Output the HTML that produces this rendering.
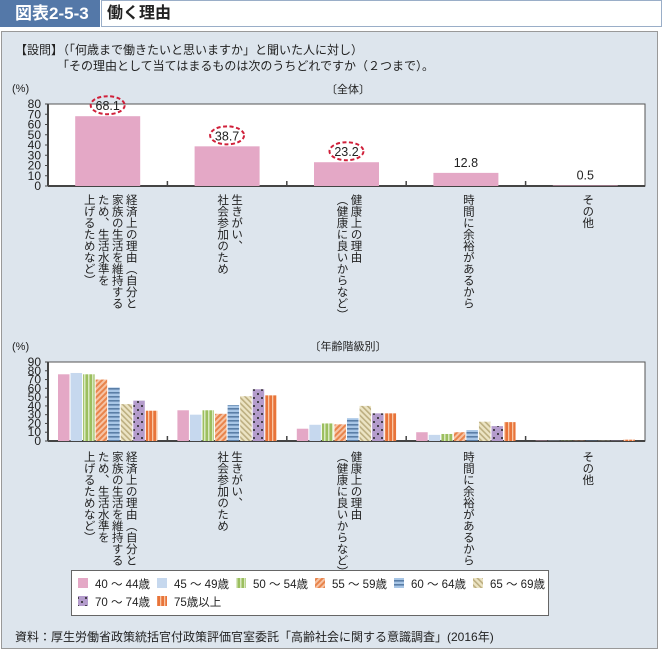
<!DOCTYPE html>
<html><head><meta charset="utf-8"><style>
body{margin:0;width:662px;height:655px;background:#fff;font-family:"Liberation Sans","Noto Sans CJK JP",sans-serif;overflow:hidden;position:relative}
.abs{position:absolute}
.vt{writing-mode:vertical-rl;font-size:11.5px;line-height:14px;color:#222;white-space:nowrap;letter-spacing:0}
</style></head><body>
<div class="abs" style="left:0;top:0;width:100px;height:27px;background:#5478a8;color:#fff;font-weight:bold;font-size:17px;line-height:27px;text-indent:15px">図表2-5-3</div>
<div class="abs" style="left:101px;top:0;width:559px;height:25px;border:1px solid #9aaec8;font-weight:bold;font-size:16px;line-height:25px;text-indent:5px;color:#222">働く理由</div>
<div class="abs" style="left:1px;top:31px;width:655px;height:616px;background:#dde5ed;border:1px solid #999"></div>
<div class="abs" style="left:15px;top:42px;font-size:12px;line-height:16px;color:#222">【設問】（「何歳まで働きたいと思いますか」と聞いた人に対し）<br><span style="padding-left:42px">「その理由として当てはまるものは次のうちどれですか（２つまで）。</span></div>
<div class="abs" style="left:71px;top:570px;width:476px;height:44px;background:#fff;border:1px solid #666"></div>
<svg class="abs" style="left:0;top:0" width="662" height="655" id="chart">
<defs>
<pattern id="p2" width="4" height="4" patternUnits="userSpaceOnUse"><rect width="4" height="4" fill="#9cbf5f"/><rect width="1.5" height="4" fill="#d9e8c0"/></pattern>
<pattern id="p3" width="4" height="4" patternUnits="userSpaceOnUse" patternTransform="rotate(45)"><rect width="4" height="4" fill="#f6c4a5"/><rect width="2" height="4" fill="#e8844c"/></pattern>
<pattern id="p4" width="4" height="4" patternUnits="userSpaceOnUse"><rect width="4" height="4" fill="#a8c6e6"/><rect width="4" height="1.6" fill="#5a7ea6"/></pattern>
<pattern id="p5" width="4" height="4" patternUnits="userSpaceOnUse" patternTransform="rotate(-45)"><rect width="4" height="4" fill="#ece4c4"/><rect width="1.6" height="4" fill="#bcae80"/></pattern>
<pattern id="p6" width="8" height="8" patternUnits="userSpaceOnUse"><rect width="8" height="8" fill="#b49ccc"/><circle cx="2" cy="2" r="1" fill="#222"/><circle cx="6" cy="6" r="1" fill="#222"/></pattern>
<pattern id="p7" width="4" height="4" patternUnits="userSpaceOnUse"><rect width="4" height="4" fill="#e8743a"/><rect width="1.3" height="4" fill="#f9c7a5"/></pattern>
</defs>
</svg>
<div class="abs" style="left:15px;top:628px;font-size:12px;color:#222">資料：厚生労働省政策統括官付政策評価官室委託「高齢社会に関する意識調査」(2016年)</div>
<script>
const categories=["経済上の理由（自分と|家族の生活を維持する|ため、生活水準を|上げるためなど）","生きがい、|社会参加のため","健康上の理由|（健康に良いからなど）","時間に余裕があるから","その他"];
const totalValues=[68.1,38.7,23.2,12.8,0.5];
const totalLabels=["68.1","38.7","23.2","12.8","0.5"];
const highlighted=[true,true,true,false,false];
const topTicks=[0,10,20,30,40,50,60,70,80];
const bottomTicks=[0,10,20,30,40,50,60,70,80,90];
const ageGroups=["40 ～ 44歳","45 ～ 49歳","50 ～ 54歳","55 ～ 59歳","60 ～ 64歳","65 ～ 69歳","70 ～ 74歳","75歳以上"];
const v4044=[76,35,14,10,0.4];
const v4549=[77.5,30,18.5,7,0.3];
const v5054=[76,35,20,8,0.3];
const v5559=[70,31,19,10,0.3];
const v6064=[61,41,26,12.5,0.4];
const v6569=[42,51,40,22,0.3];
const v7074=[46,59,31.5,17,0.3];
const v75=[34.5,52,31.5,21.5,1.5];
const ageSeries=[v4044,v4549,v5054,v5559,v6064,v6569,v7074,v75];
const fills=["#e4a8c6","#c6d8ee","url(#p2)","url(#p3)","url(#p4)","url(#p5)","url(#p6)","url(#p7)"];

const svg=document.getElementById('chart');const NS="http://www.w3.org/2000/svg";
function mk(t,a,p){const e=document.createElementNS(NS,t);for(const k in a)e.setAttribute(k,a[k]);(p||svg).appendChild(e);return e;}
const L=48,R=645,gw=(R-L)/categories.length;
function axis(top,bot,max,ticks,name){
  mk('rect',{x:L,y:top,width:R-L,height:bot-top,fill:'#fff',stroke:'#555','stroke-width':1});
  mk('line',{x1:L,y1:bot,x2:R,y2:bot,stroke:'#444','stroke-width':2});
  mk('line',{x1:L,y1:top,x2:L,y2:bot,stroke:'#444','stroke-width':2});
  const y=v=>bot-(v/max)*(bot-top);
  ticks.forEach(t=>{const tx=mk('text',{x:L-7,y:y(t)+4,'text-anchor':'end','font-size':12,fill:'#222'});tx.textContent=t;
    
    
    mk('line',{x1:L-3,y1:y(t),x2:L,y2:y(t),stroke:'#444'});});
  for(let i=1;i<categories.length;i++){mk('line',{x1:L+gw*i,y1:bot,x2:L+gw*i,y2:bot-5,stroke:'#444','stroke-width':1.5});}
  const u=mk('text',{x:12,y:top-12,'font-size':11,fill:'#222'});u.textContent='(%)';
  
  
  return y;
}
const yT=axis(104,186,80,topTicks,'top-axis');
const t1=mk('text',{x:348,y:93,'text-anchor':'middle','font-size':11,fill:'#222'});t1.textContent='〔全体〕';


totalValues.forEach((v,i)=>{const cx=L+gw*(i+0.5);
  const b=mk('rect',{x:cx-32.5,y:yT(v),width:65,height:186-yT(v),fill:'#e4a8c6'});
  
  
  const ly=yT(v)-7;
  if(highlighted[i]){const e=mk('ellipse',{cx:cx,cy:ly-4,rx:17,ry:9,fill:'none',stroke:'#d0203a','stroke-width':2,'stroke-dasharray':'4,2.5'});
    
    }
  const t=mk('text',{x:cx,y:ly+1,'text-anchor':'middle','font-size':12.5,fill:'#222'});t.textContent=totalLabels[i];
  
  
});
const yB=axis(362,441,90,bottomTicks,'bottom-axis');
const t2=mk('text',{x:348,y:350,'text-anchor':'middle','font-size':11,fill:'#222'});t2.textContent='〔年齢階級別〕';


const bw=11.5,gap=1;
ageSeries.forEach((s,j)=>{s.forEach((v,i)=>{const x0=L+gw*i+10+j*(bw+gap+0.05);
  const b=mk('rect',{x:x0,y:yB(v),width:bw,height:441-yB(v),fill:fills[j]});
  
  
});});
function labels(top,name){categories.forEach((c,i)=>{const d=document.createElement('div');d.className='abs vt';
  
  
  d.innerHTML=c.split('|').join('<br>');document.body.insertBefore(d,svg);
  const cx=L+gw*(i+0.5)+2;d.style.top=top+'px';d.style.left=(cx-d.offsetWidth/2)+'px';});}
labels(194,'top');labels(451,'bottom');
ageGroups.forEach((g,j)=>{const col=j%6,row=Math.floor(j/6);
  const x=78+col*79,y=578+row*18;
  const r=mk('rect',{x:x,y:y,width:10,height:10,fill:fills[j]});
  
  
  const t=mk('text',{x:x+17,y:y+10,'font-size':11.5,fill:'#222'});t.textContent=g;
  
  
});
</script>
</body></html>
